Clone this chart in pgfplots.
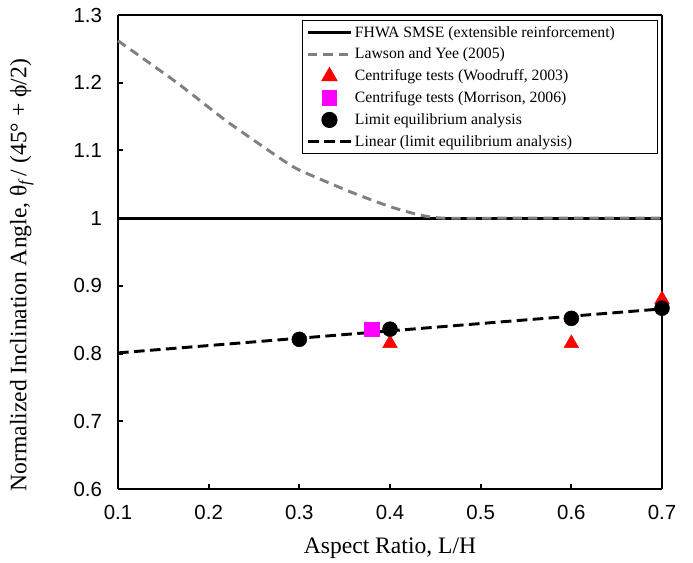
\documentclass[border=0pt]{standalone}
\usepackage{fontspec}
\setmainfont{Liberation Serif}
\newfontfamily\arial{Liberation Sans}
\usepackage{pgfplots}
\pgfplotsset{compat=1.18}
\definecolor{lygray}{RGB}{128,128,128}
\definecolor{frame}{RGB}{150,150,150}
\definecolor{mag}{RGB}{255,0,255}
\definecolor{rd}{RGB}{255,0,0}
\pgfplotsset{
  lineleg/.style={legend image code/.code={\draw[##1] (0pt,0pt) -- (32pt,0pt);}},
  markleg/.style={legend image code/.code={\draw[##1] plot coordinates {(16pt,0pt)};}},
}
\begin{document}
\begin{tikzpicture}
\begin{axis}[
  name=ax,
  scale only axis,
  width=408pt, height=355.5pt,
  xmin=0.1, xmax=0.7, ymin=0.6, ymax=1.3,
  xtick={0.1,0.2,...,0.7}, ytick={0.6,0.7,...,1.3},
  tick align=inside, tick pos=left,
  major tick length=4pt,
  tick style={black, line width=1.5pt},
  axis line style={frame, line width=1.5pt},
  separate axis lines,
  every outer x axis line/.append style={black, line width=2.2pt},
  every outer y axis line/.append style={black, line width=2.2pt},
  /pgf/number format/assume math mode=true,
  xticklabel style={font=\arial\fontsize{15.3}{17}\selectfont, /pgf/number format/.cd, fixed, fixed zerofill, precision=1},
  yticklabel style={font=\arial\fontsize{15.3}{17}\selectfont, /pgf/number format/.cd, fixed, precision=1},
  xticklabel shift=9pt, yticklabel shift=8.5pt,
  xlabel={Aspect Ratio, L/H},
  ylabel={Normalized Inclination Angle, θ\textsubscript{\itshape f}\,/ (45° + ϕ/2)},
  label style={font=\fontsize{17.7}{20}\selectfont},
  xlabel style={at={(axis description cs:0.5,-0.124)}, anchor=center},
  ylabel style={at={(axis description cs:-0.177,0.451)}, anchor=center},
  legend style={at={(0.993,0.989)}, anchor=north east, draw=black, line width=0.9pt,
    font=\fontsize{11.8}{14}\selectfont, row sep=2.6pt, inner xsep=3pt, inner ysep=2pt,
    cells={anchor=west}},
  legend cell align=left,
  clip=false,
]
\addplot[black, line width=2.2pt, lineleg] coordinates {(0.1,1.0) (0.7,1.0)};
\addlegendentry{\makebox[222pt][l]{FHWA SMSE (extensible reinforcement)}}
\addplot[lygray, line width=2.2pt, dash pattern=on 7pt off 4.5pt, smooth, tension=0.35, lineleg] coordinates {
 (0.1,1.262) (0.165,1.200) (0.22,1.143) (0.2786,1.0885) (0.30,1.071)
 (0.356,1.039) (0.40,1.017) (0.433,1.0045) (0.46,1.0) (0.55,1.0) (0.7,1.0)};
\addlegendentry{Lawson and Yee (2005)}
\addplot[only marks, mark=triangle*, mark size=6.3pt, color=rd, markleg] coordinates {
 (0.4,0.815) (0.6,0.815) (0.7,0.880)};
\addlegendentry{Centrifuge tests (Woodruff, 2003)}
\addplot[only marks, mark=square*, mark size=5.4pt, color=mag, markleg] coordinates {
 (0.38,0.836)};
\addlegendentry{Centrifuge tests (Morrison, 2006)}
\addplot[only marks, mark=*, mark size=5.6pt, color=black, markleg] coordinates {
 (0.3,0.821) (0.4,0.836) (0.6,0.852) (0.7,0.867)};
\addlegendentry{Limit equilibrium analysis}
\addplot[black, line width=2.2pt, dash pattern=on 8pt off 4pt, lineleg] coordinates {
 (0.1,0.801) (0.7,0.866)};
\addlegendentry{Linear (limit equilibrium analysis)}
\end{axis}
\pgfresetboundingbox
\path ([shift={(-88.5pt,-55.5pt)}]ax.south west) rectangle ([shift={(23.25pt,11.25pt)}]ax.north east);
\end{tikzpicture}
\end{document}
